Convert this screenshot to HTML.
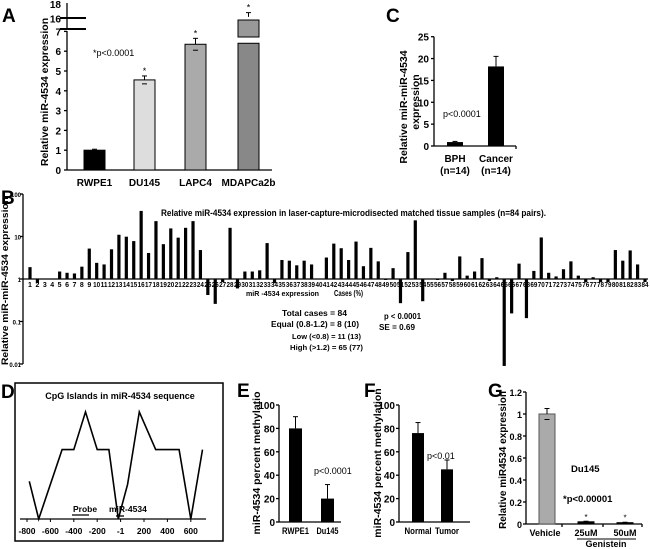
<!DOCTYPE html>
<html><head><meta charset="utf-8">
<style>
html,body{margin:0;padding:0;background:#fff;}
svg{display:block;font-family:"Liberation Sans",Arial,sans-serif;}
text{fill:#000;}
.b{font-weight:bold;}
</style></head>
<body>
<svg id="fig" width="650" height="549" viewBox="0 0 650 549">
<g id="gA"></g>
<g id="gB"></g>
<g id="gC"></g>
<g id="gD"></g>
<g id="gE"></g>
<g id="gF"></g>
<g id="gG"></g>
</svg>
<script>
// ---- data ----
const aCategories = ["RWPE1","DU145","LAPC4","MDAPCa2b"];
const aValues = [1.0, 4.55, 6.35, 16.2];
const aErrors = [0.05, 0.2, 0.3, 0.6];
const aTicks = [0,1,2,3,4,5,6,7];
const aUpperTicks = [16,18];

const bValues = [1.9,0.8,1,1,1.5,1.4,1.35,1.95,5.2,2.4,2.2,5,11,9.9,7.8,40,4.1,23,6.6,15.5,9.4,16,23,4.8,
0.42,0.26,0.85,16,0.6,1.5,1.5,1.6,7,0.8,2.8,2.7,2.1,2.7,2.2,1,3.2,6.8,5.3,2.8,7.6,2.0,5.4,2.6,0.95,1.8,
0.27,4.3,24,0.3,1,0.95,1.4,0.9,3.4,1.2,1.5,3.1,0.9,1.1,0.009,0.155,2.3,0.12,1.55,9.5,1.4,1.15,1.7,2.6,1.2,0.85,1.1,0.85,0.85,4.8,2.7,4.7,2.2,0.85];
const bTicks = [100,10,1,0.1,0.01];
const bTickLabels = ["100","10","1","0.1","0.01"];

const cCategories = ["BPH","Cancer"];
const cValues = [0.9, 18.2];
const cErrors = [0.15, 2.3];
const cTicks = [0,5,10,15,20,25];

const dHeights = [0.37,0,0.68,0.68,1.05,0.68,0.68,0,0.34,1.05,0.68,0.68,0,0.68];
const dPos = [-780,-700,-500,-400,-300,-200,-100,-20,60,160,300,500,600,700];
const dTicks = ["-800","-600","-400","-200","-1","200","400","600"];
const dTickVals = [-800,-600,-400,-200,0,200,400,600];

const eCategories = ["RWPE1","Du145"];
const eValues = [80, 20];
const eErrors = [10, 12];
const fCategories = ["Normal","Tumor"];
const fValues = [76, 45];
const fErrors = [9, 8];
const pctTicks = [0,20,40,60,80,100];

const gCategories = ["Vehicle","25uM","50uM"];
const gValues = [1.0, 0.02, 0.012];
const gErrors = [0.05, 0.005, 0.004];
const gTicks = [0,0.2,0.4,0.6,0.8,1,1.2];
const gTickLabels = ["0","0.2","0.4","0.6","0.8","1","1.2"];

const NS="http://www.w3.org/2000/svg";
function mk(parent, tag, attrs, txt){
  const e=document.createElementNS(NS,tag);
  for(const k in attrs) e.setAttribute(k,attrs[k]);
  if(txt!==undefined) e.textContent=txt;
  parent.appendChild(e); return e;
}
function line(p,x1,y1,x2,y2,w){return mk(p,'line',{x1,y1,x2,y2,stroke:'#000','stroke-width':w||1.3});}
function errbar(p,x,y1,y2){line(p,x,y1,x,y2,1);line(p,x-2.5,y2,x+2.5,y2,1);}

// ---- Panel A ----
(function(){
  const g=document.getElementById('gA');
  const y0=170, unit=19.8, ax=67;
  const ya=v=>y0-v*unit;
  const yu=v=>18.3-(v-16)*7.1;
  const t=mk(g,'text',{x:2,y:22,'font-size':19,class:'b'},'A');
   
  line(g,ax,y0,ax,31); line(g,ax,28,ax,3);
  line(g,60,18,86,18,2); line(g,60,29,86,29,2);
  line(g,ax,y0,272,y0);
  aTicks.forEach(v=>{line(g,ax-3,ya(v),ax,ya(v));
    const e=mk(g,'text',{x:ax-6,y:ya(v)+4,'font-size':10,'text-anchor':'end',class:'b'},String(v));
     });
  aUpperTicks.forEach(v=>{const e=mk(g,'text',{x:ax-6,y:yu(v)+4,'font-size':10,'text-anchor':'end',class:'b'},String(v));
     });
  const cols=['#000','#ddd','#aaa','#888'];
  const xs=[84,134,185,238], w=21;
  aValues.forEach((v,i)=>{
    const top = v>7 ? ya(6.4) : ya(v);
    const r=mk(g,'rect',{x:xs[i],y:top,width:w,height:y0-top,fill:cols[i],stroke:'#000','stroke-width':1});
     
    let ty;
    if(v>7){ const ub=mk(g,'rect',{x:xs[i],y:20,width:w,height:17,fill:'#999',stroke:'#000','stroke-width':1});
       
      ty=yu(v+aErrors[i]); errbar(g,xs[i]+w/2,yu(v),ty); }
    else { ty=ya(v+aErrors[i]); errbar(g,xs[i]+w/2,ya(v),ty); line(g,xs[i]+w/2-2.5,ya(v-aErrors[i]),xs[i]+w/2+2.5,ya(v-aErrors[i]),1);}
    if(i>0) mk(g,'text',{x:xs[i]+w/2,y:ty-2,'font-size':9,'text-anchor':'middle',fill:'#333'},'*');
    const l=mk(g,'text',{x:xs[i]+w/2,y:186,'font-size':10,'text-anchor':'middle',class:'b'},aCategories[i]);
     
  });
  mk(g,'text',{x:93,y:56,'font-size':9,fill:'#333'},'*p<0.0001');
  const yt=mk(g,'text',{x:0,y:0,'font-size':10.5,class:'b','text-anchor':'middle',transform:'translate(48,92) rotate(-90)'},'Relative miR-4534 expression');
   
})();

// ---- Panel C ----
(function(){
  const g=document.getElementById('gC');
  const ax=434, y0=146, u=(146-36.7)/25;
  const yc=v=>y0-v*u;
  mk(g,'text',{x:386,y:22,'font-size':19,class:'b'},'C');
  line(g,ax,y0,ax,yc(25)); line(g,ax,y0,516,y0);
  cTicks.forEach(v=>{line(g,ax-3,yc(v),ax,yc(v));
    const e=mk(g,'text',{x:ax-5,y:yc(v)+4,'font-size':10,'text-anchor':'end',class:'b'},String(v));
     });
  const xs=[447,488], w=16;
  cValues.forEach((v,i)=>{
    const r=mk(g,'rect',{x:xs[i],y:yc(v),width:w,height:y0-yc(v),fill:'#000'});
     
    errbar(g,xs[i]+w/2,yc(v),yc(v+cErrors[i]));
    mk(g,'text',{x:xs[i]+w/2,y:162,'font-size':10,'text-anchor':'middle',class:'b'},cCategories[i]);
    mk(g,'text',{x:xs[i]+w/2,y:174,'font-size':10,'text-anchor':'middle',class:'b'},'(n=14)');
  });
  line(g,516,y0,516,y0+3);
  mk(g,'text',{x:443,y:117,'font-size':9,fill:'#333'},'p<0.0001');
  const t=mk(g,'text',{x:0,y:0,'font-size':10.5,class:'b','text-anchor':'middle',transform:'translate(407,107) rotate(-90)'},'Relative miR-miR-4534');
   
  mk(g,'text',{x:0,y:0,'font-size':10.5,class:'b','text-anchor':'middle',transform:'translate(419,102) rotate(-90)'},'expression');
})();

// ---- Panel B ----
(function(){
  const g=document.getElementById('gB');
  const ax=23, y1=279, dec=42.5;
  const yb=v=>y1-Math.log10(v)*dec;
  mk(g,'text',{x:1,y:204,'font-size':19,class:'b'},'B');
  line(g,ax,yb(100),ax,yb(0.01));
  bTicks.forEach((v,i)=>{line(g,ax-3,yb(v),ax,yb(v));
    const e=mk(g,'text',{x:ax-2,y:yb(v)+3,'font-size':6,'text-anchor':'end',class:'b'},bTickLabels[i]);
     });
  const x0=30, step=(645-30)/83, w=3.2;
  bValues.forEach((v,i)=>{
    const x=x0+i*step, yt=yb(v);
    const r=mk(g,'rect',{x:x-w/2,y:Math.min(yt,y1),width:w,height:Math.max(Math.abs(yt-y1),0.01),fill:'#000'});
     
    const l=mk(g,'text',{x:x,y:287,'font-size':7,'text-anchor':'middle',class:'b'},String(i+1));
    if(i>=9){ l.setAttribute('textLength',String(step-0.4)); l.setAttribute('lengthAdjust','spacingAndGlyphs'); }
  });
  line(g,ax,y1,648,y1);
  const tt=mk(g,'text',{x:161,y:216,'font-size':9,class:'b',textLength:385,lengthAdjust:'spacingAndGlyphs'},'Relative miR-4534 expression in laser-capture-microdisected matched tissue samples (n=84 pairs).');
   
  const yt=mk(g,'text',{x:0,y:0,'font-size':9,class:'b','text-anchor':'middle',textLength:168,lengthAdjust:'spacingAndGlyphs',transform:'translate(8,281) rotate(-90)'},'Relative miR-miR-4534 expression');
   
  const st=[[246,296,'miR -4534 expression',73,7],[334,296,'Cases (%)',29,8],[282,316,'Total cases  = 84',65,8.5],
    [271,327,'Equal (0.8-1.2) = 8 (10)',88,8.5],[292,339,'Low (<0.8) = 11 (13)',69,7],[290,350,'High (>1.2)  = 65 (77)',73,7],
    [384,319,'p < 0.0001',37,8.5],[379,330,'SE = 0.69',36,8.5]];
  st.forEach(s=>{const e=mk(g,'text',{x:s[0],y:s[1],'font-size':s[4],class:'b',textLength:s[3],lengthAdjust:'spacingAndGlyphs'},s[2]);
     });
})();

// ---- Panel D ----
(function(){
  const g=document.getElementById('gD');
  mk(g,'text',{x:1,y:398,'font-size':19,class:'b'},'D');
  const box=mk(g,'rect',{x:15,y:383,width:208,height:158,fill:'none',stroke:'#000','stroke-width':1.5});
   
  mk(g,'text',{x:120,y:399,'font-size':9,class:'b','text-anchor':'middle'},'CpG Islands in miR-4534 sequence');
  const xd=v=>120.6+v*23.4/200, yd=h=>519-h*102;
  line(g,20,519,206,519);
  dTickVals.forEach((v,i)=>{line(g,xd(v),519,xd(v),522,1);
    const e=mk(g,'text',{x:xd(v),y:534,'font-size':8.5,'text-anchor':'middle',class:'b'},dTicks[i]);
     });
  const pts=dPos.map((p,i)=>xd(p).toFixed(1)+','+yd(dHeights[i]).toFixed(1)).join(' ');
  const pl=mk(g,'polyline',{points:pts,fill:'none',stroke:'#000','stroke-width':1.6});
   
  mk(g,'text',{x:73,y:512,'font-size':8.5,class:'b'},'Probe');
  line(g,72,515,89,515,1.3);
  mk(g,'text',{x:109,y:512,'font-size':8.5,class:'b'},'miR-4534');
  line(g,116,516,124,516,1.3);
})();

// ---- Panels E, F ----
function pctPanel(id,letter,lx,ax,cats,vals,errs,xs,w,axEnd,title,tx,ptext,px,py,lblw){
  const g=document.getElementById(id);
  const y0=522, u=(522-405)/100, yv=v=>y0-v*u;
  mk(g,'text',{x:lx,y:397,'font-size':19,class:'b'},letter);
  line(g,ax,y0,ax,yv(100)); line(g,ax,y0,axEnd,y0);
  pctTicks.forEach(v=>{line(g,ax-3,yv(v),ax,yv(v));
    const e=mk(g,'text',{x:ax-4,y:yv(v)+4,'font-size':10,'text-anchor':'end',class:'b'},String(v));
     });
  vals.forEach((v,i)=>{
    const r=mk(g,'rect',{x:xs[i],y:yv(v),width:w,height:y0-yv(v),fill:'#000'});
     
    errbar(g,xs[i]+w/2,yv(v),yv(v+errs[i]));
    mk(g,'text',{x:xs[i]+w/2,y:534,'font-size':9,'text-anchor':'middle',class:'b',textLength:lblw[i],lengthAdjust:'spacingAndGlyphs'},cats[i]);
  });
  mk(g,'text',{x:px,y:py,'font-size':9,fill:'#333'},ptext);
  const t=mk(g,'text',{x:0,y:0,'font-size':10.5,class:'b','text-anchor':'middle',transform:'translate('+tx+',463) rotate(-90)'},title);
   
}
pctPanel('gE','E',237,279,eCategories,eValues,eErrors,[289,321],13,341,'miR-4534 percent methylatio',260,'p<0.0001',314,474,[27,22]);
pctPanel('gF','F',364,399,fCategories,fValues,fErrors,[412,441],12,470,'miR-4534 percent methylation',381,'p<0.01',427,459,[27,24]);

// ---- Panel G ----
(function(){
  const g=document.getElementById('gG');
  const ax=526, y0=524, u=(524-392)/1.2, yv=v=>y0-v*u;
  mk(g,'text',{x:488,y:397,'font-size':19,class:'b'},'G');
  line(g,ax,y0,ax,yv(1.2)); line(g,ax,y0,642,y0);
  gTicks.forEach((v,i)=>{line(g,ax-3,yv(v),ax,yv(v));
    const e=mk(g,'text',{x:ax-4,y:yv(v)+4,'font-size':9,'text-anchor':'end',class:'b'},gTickLabels[i]);
     });
  [562,603,642].forEach(x=>line(g,x,y0,x,y0+3));
  const xs=[539,578,617], w=16;
  gValues.forEach((v,i)=>{
    const r=mk(g,'rect',{x:xs[i],y:yv(v),width:w,height:y0-yv(v),fill:i===0?'#aaa':'#000',stroke:i===0?'#555':'#000','stroke-width':1});
     
    errbar(g,xs[i]+w/2,yv(v),yv(v+gErrors[i]));
    if(i===0) line(g,xs[i]+w/2-2.5,yv(v-gErrors[i]),xs[i]+w/2+2.5,yv(v-gErrors[i]),1);
    else mk(g,'text',{x:xs[i]+w/2,y:yv(v)-2,'font-size':8,'text-anchor':'middle'},'*');
    mk(g,'text',{x:xs[i]+w/2+(i===0?-2:0),y:536,'font-size':9,'text-anchor':'middle',class:'b'},gCategories[i]);
  });
  line(g,577,539,636,539,1);
  mk(g,'text',{x:606,y:547,'font-size':9,'text-anchor':'middle',class:'b'},'Genistein');
  mk(g,'text',{x:571,y:472,'font-size':9.5,class:'b'},'Du145');
  mk(g,'text',{x:563,y:502,'font-size':9.5,class:'b'},'*p<0.00001');
  const t=mk(g,'text',{x:0,y:0,'font-size':10,class:'b','text-anchor':'middle',transform:'translate(506,460) rotate(-90)'},'Relative miR4534 expression');
   
})();
</script>
</body></html>
